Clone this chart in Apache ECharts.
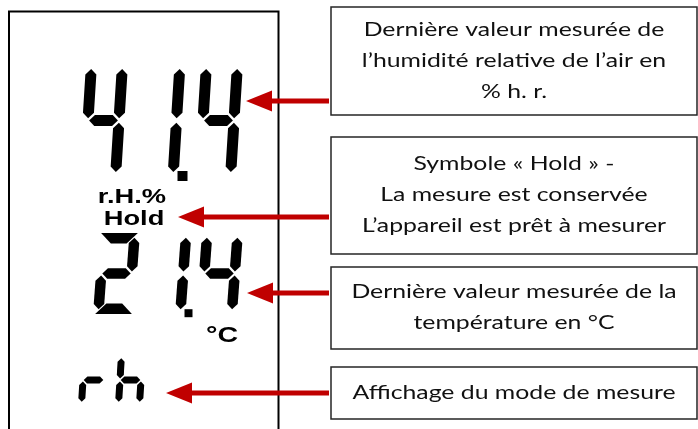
<!DOCTYPE html>
<html>
<head>
<meta charset="utf-8">
<script src="https://cdn.jsdelivr.net/npm/echarts@6/dist/echarts.min.js"></script>
<style>
  html, body { margin: 0; padding: 0; background: #fff; }
  #chart { width: 698px; height: 429px; }
</style>
</head>
<body>
<div id="chart"></div>
<script>
// what the display shows
const humidityReading = '41.4'
const temperatureReading = '21.4'
const modeReading = 'rh'
const humidityUnit = 'r.H.%'
const holdSymbol = 'Hold'
const temperatureUnit = '°C'
const notes = [
  'Dernière valeur mesurée de\nl’humidité relative de l’air en\n% h. r.',
  'Symbole « Hold » -\nLa mesure est conservée\nL’appareil est prêt à mesurer',
  'Dernière valeur mesurée de la\ntempérature en °C',
  'Affichage du mode de mesure'
]

const SEGMENTS = {
  '0': 'abcdef', '1': 'bc', '2': 'abdeg', '3': 'abcdg', '4': 'bcfg',
  '5': 'acdfg', '6': 'acdefg', '7': 'abc', '8': 'abcdefg', '9': 'abcdfg',
  'r': 'eg', 'h': 'cefg'
}

// layout of the three lcd lines, in picture pixels
const lcdRows = [
  { text: humidityReading, x: 79, y: 64, w: 42, h: 113, t: 11, pitch: 57.5, slant: 7, dot: 10 },
  { text: temperatureReading, x: 93, y: 233, w: 41, h: 81, t: 10.5, pitch: 51.5, slant: 6, dot: 8 },
  { text: modeReading, x: 78, y: 355, w: 28, h: 50, t: 7, pitch: 37, slant: 3, dot: 5 }
]
const noteBoxes = [[7, 115], [137, 254], [267, 349], [367, 419]]
const arrowTips = [[246, 101], [178, 217], [247, 293], [166, 393]]
const RED = '#c00000'

const cells = []
lcdRows.forEach((row, r) => {
  for (const ch of row.text) {
    if (ch === '.') cells[cells.length - 1].dp = true
    else cells.push({ row: r, pos: cells.filter(c => c.row === r).length, ch, dp: false })
  }
})

function segmentShapes(w, h, t) {
  const g = t * 0.2, ht = t / 2
  const vert = (uc, v1, v2) => [[uc, v1], [uc + ht, v1 + ht], [uc + ht, v2 - ht], [uc, v2], [uc - ht, v2 - ht], [uc - ht, v1 + ht]]
  const horz = (vc, u1, u2) => [[u1, vc], [u1 + ht, vc - ht], [u2 - ht, vc - ht], [u2, vc], [u2 - ht, vc + ht], [u1 + ht, vc + ht]]
  const top = ht / 2 + g
  return {
    a: [[g, 0], [w - g, 0], [w - t - g, t], [t + g, t]],
    b: vert(w - ht, top, h / 2 - g),
    c: vert(w - ht, h / 2 + g, h - top),
    d: [[t + g, h - t], [w - t - g, h - t], [w - g, h], [g, h]],
    e: vert(ht, h / 2 + g, h - top),
    f: vert(ht, top, h / 2 - g),
    g: horz(h / 2, ht + g / 2, w - ht - g / 2)
  }
}

const chart = echarts.init(document.getElementById('chart'))

chart.setOption({
  animation: false,
  grid: { left: 0, right: 0, top: 0, bottom: 0 },
  xAxis: { type: 'value', min: 0, max: 698, show: false },
  yAxis: { type: 'value', min: 0, max: 429, inverse: true, show: false },
  series: [
    {
      // lcd frame
      type: 'custom',
      data: [[0, 0]],
      renderItem: (params, api) => ({
        type: 'polyline',
        shape: { points: [[9, 440], [9, 11.5], [278.5, 11.5], [278.5, 440]].map(p => api.coord(p)) },
        style: { stroke: '#000', lineWidth: 2, fill: null }
      })
    },
    {
      // seven segment digits
      type: 'custom',
      data: cells.map((c, i) => [i, 0]),
      renderItem: (params, api) => {
        const c = cells[params.dataIndex]
        const row = lcdRows[c.row]
        const x0 = row.x + c.pos * row.pitch
        const pt = ([u, v]) => api.coord([x0 + u + row.slant * (1 - v / row.h), row.y + v])
        const shapes = segmentShapes(row.w, row.h, row.t)
        const children = SEGMENTS[c.ch].split('').map(s => ({
          type: 'polygon',
          shape: { points: shapes[s].map(pt) },
          style: { fill: '#000' }
        }))
        if (c.dp) {
          const s = row.dot
          const p = api.coord([x0 + row.w - 1, row.y + row.h - s * 0.6])
          children.push({ type: 'rect', shape: { x: p[0], y: p[1], width: s, height: s }, style: { fill: '#000' } })
        }
        return { type: 'group', children }
      }
    },
    {
      // unit and hold symbols
      type: 'custom',
      data: [[0, 0], [1, 0], [2, 0]],
      renderItem: (params, api) => {
        const spec = [
          { text: humidityUnit, at: [132, 197], size: 21 },
          { text: holdSymbol, at: [134, 219], size: 21 },
          { text: temperatureUnit, at: [222, 336], size: 22 }
        ][params.dataIndex]
        const p = api.coord(spec.at)
        return {
          type: 'text', x: p[0], y: p[1], scaleX: 1.3,
          style: {
            text: spec.text, fill: '#000', align: 'center', verticalAlign: 'middle',
            font: `bold ${spec.size}px "Liberation Sans", Arial, sans-serif`
          }
        }
      }
    },
    {
      // annotation boxes
      type: 'custom',
      data: notes.map((n, i) => [i, 0]),
      renderItem: (params, api) => {
        const [y1, y2] = noteBoxes[params.dataIndex]
        const a = api.coord([331, y1]), b = api.coord([697, y2])
        const mid = api.coord([514, (y1 + y2) / 2])
        return {
          type: 'group',
          children: [
            { type: 'rect', shape: { x: a[0], y: a[1], width: b[0] - a[0], height: b[1] - a[1] }, style: { stroke: '#262626', lineWidth: 1.5, fill: '#fff' } },
            {
              type: 'text', x: mid[0], y: mid[1], scaleX: 1.34,
              style: {
                text: notes[params.dataIndex], fill: '#111', align: 'center', verticalAlign: 'middle',
                font: '18.5px Lato, "Open Sans", sans-serif', lineHeight: 31
              }
            }
          ]
        }
      }
    },
    {
      // red arrows
      type: 'custom',
      data: arrowTips.map((t, i) => [i, 0]),
      renderItem: (params, api) => {
        const [tx, ty] = arrowTips[params.dataIndex]
        const head = 26, half = 10.5
        return {
          type: 'group',
          children: [
            { type: 'line', shape: { x1: api.coord([tx + head - 2, ty])[0], y1: api.coord([0, ty])[1], x2: api.coord([329, ty])[0], y2: api.coord([0, ty])[1] }, style: { stroke: RED, lineWidth: 5 } },
            { type: 'polygon', shape: { points: [[tx, ty], [tx + head, ty - half], [tx + head, ty + half]].map(p => api.coord(p)) }, style: { fill: RED } }
          ]
        }
      }
    }
  ]
})

window.addEventListener('resize', () => chart.resize())
</script>
</body>
</html>
